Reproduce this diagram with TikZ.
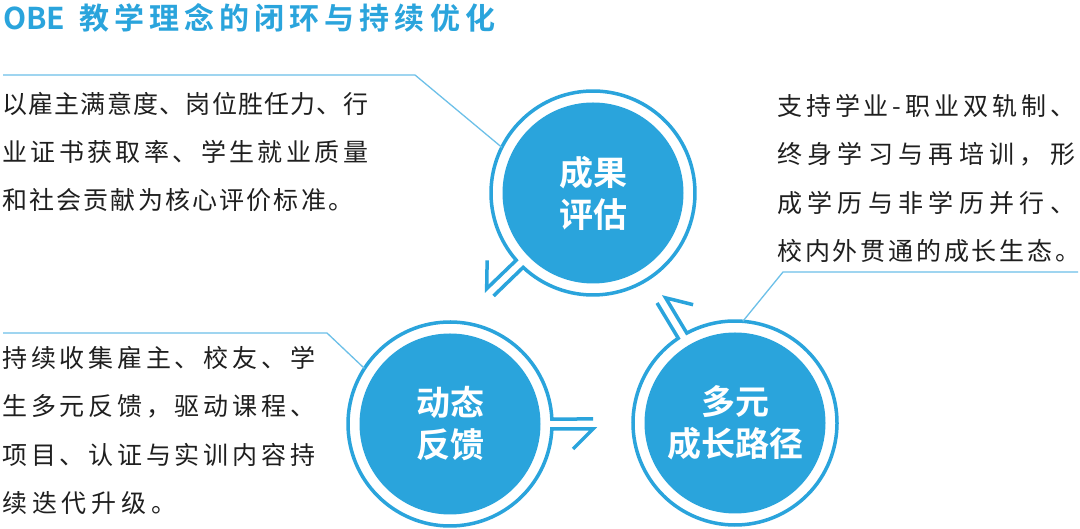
\documentclass[tikz,border=0pt]{standalone}
\usepackage{fontspec}
\setmainfont{Noto Sans CJK SC}[BoldFont={Noto Sans CJK SC Bold}]
\usepackage{tikz}
\usetikzlibrary{calc}
\definecolor{obeblue}{HTML}{2AA4DC}
\definecolor{leadblue}{HTML}{6CC0E8}
\definecolor{bodygray}{HTML}{1F1F1F}
\newcommand\spreadline[2]{\makebox[#1][s]{\expandafter\spreadchars#2\relax}}
\def\spreadchars#1{#1\spreadnext}
\def\spreadnext#1{\ifx#1\relax\else\hfil#1\expandafter\spreadnext\fi}
\tikzset{disc/.style = {circle, fill=obeblue, minimum size=181pt, inner sep=0pt,
                        text=white, align=center,
                        font=\fontsize{34}{42}\selectfont\bfseries},
         ring/.style = {obeblue, line width=3.5pt},
         leader/.style = {leadblue, line width=1.3pt},
         bodyline/.style = {anchor=base west, inner sep=0pt, text=bodygray,
                            font=\fontsize{25}{30}\selectfont}}

\begin{document}
\begin{tikzpicture}[x=1pt, y=1pt]
    \fill [white] (0, 0) rectangle (1080, 529);
    \useasboundingbox (0, 0) rectangle (1080, 529);
    \node [anchor=base west, inner sep=0pt, text=obeblue,
           font=\fontsize{30}{36}\selectfont\bfseries] (title) at (3, 499)
          {\makebox[76pt][l]{\spreadline{55pt}{OBE}}\spreadline{416pt}{教学理念的闭环与持续优化}};
    \node [disc] (assess) at (593, 336) {成果\\评估};
    \node [disc] (feedback) at (450, 105) {动态\\反馈};
    \node [disc] (path) at (735, 106) {多元\\成长路径};
    \foreach \c/\a in {assess/224, feedback/0, path/121}
        \draw [ring, shift={(\c)}, rotate=\a] (143, 5) -- (2.8:102)
              arc (2.8:357.2:102pt) -- (143, -5) -- ++(-20, -20);
    \coordinate (assess-lead) at (3, 454);
    \coordinate (path-lead) at (1078, 257);
    \coordinate (feedback-lead) at (3, 196);
    \draw [leader] (assess-lead) -- (415, 454) -- ($(assess) + (153.4:102)$);
    \draw [leader] (path-lead) -- (783, 257) -- ($(path) + (85.6:102)$);
    \draw [leader] (feedback-lead) -- (327, 196) -- ($(feedback) + (147:102)$);
    \foreach \w/\txt [count=\i] in {366/以雇主满意度、岗位胜任力、行,
                                    366/业证书获取率、学生就业质量,
                                    351/和社会贡献为核心评价标准。}
        \node [bodyline] (assess-\i) at (2, 463.5 - 48 * \i) {\spreadline{\w pt}{\txt}};
    \foreach \w/\txt [count=\i] in {298/支持学业-职业双轨制、,
                                    298/终身学习与再培训，形,
                                    298/成学历与非学历并行、,
                                    303/校内外贯通的成长生态。}
        \node [bodyline] (path-\i) at (777, 461.8 - 48.3 * \i) {\spreadline{\w pt}{\txt}};
    \foreach \w/\txt [count=\i] in {313/持续收集雇主、校友、学,
                                    313/生多元反馈，驱动课程、,
                                    313/项目、认证与实训内容持,
                                    174/续迭代升级。}
        \node [bodyline] (feedback-\i) at (2, 209.8 - 48.3 * \i) {\spreadline{\w pt}{\txt}};
\end{tikzpicture}
\end{document}
